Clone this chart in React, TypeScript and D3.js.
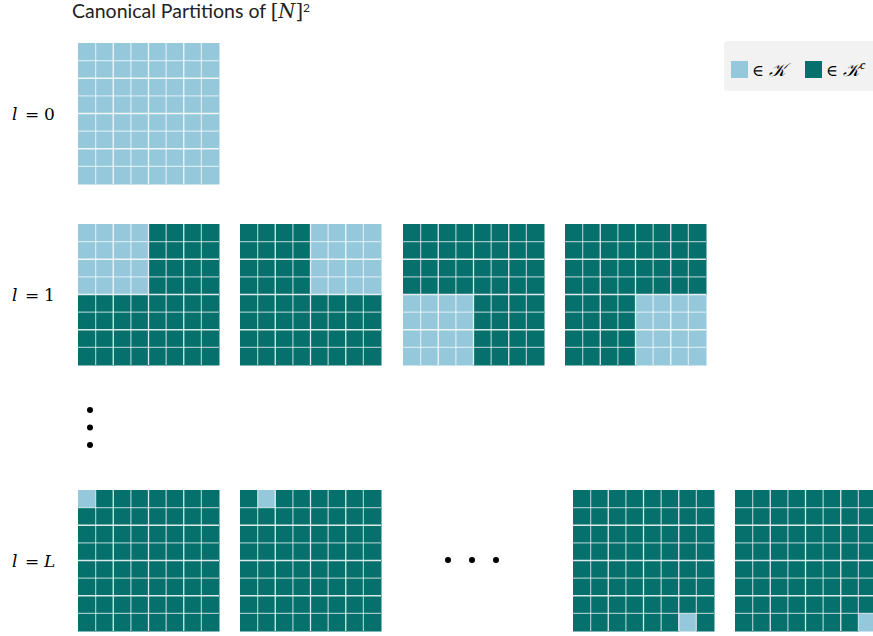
import React from "react";
import * as d3 from "d3";

// grid size and palette
const N = 8;
const lightBlue = "#96c8dc";
const teal = "#06706d";

const rowLabels = ["0", "1", "L"];
// light cells per panel: [row, col, size]
const level0Blocks: number[][] = [[0, 0, 8]];
const level1Blocks: number[][] = [[0, 0, 4], [0, 4, 4], [4, 0, 4], [4, 4, 4]];
const levelLBlocks: number[][] = [[0, 0, 1], [0, 1, 1], [7, 6, 1], [7, 7, 1]];

// layout
const panelSize = 141;
const rowTops = [43, 224, 490];
const colLefts = [[78], [78, 240, 403, 565], [78, 240, 573, 735]];
const rows = [level0Blocks, level1Blocks, levelLBlocks];

function Panel({x, y, block}: {x: number; y: number; block: number[]}) {
    const band = d3.scaleLinear().domain([0, N]).range([0, panelSize]);
    const [r0, c0, s] = block;
    const cells = d3.range(N * N).map(i => ({r: Math.floor(i / N), c: i % N}));
    const inside = (d: {r: number; c: number}) =>
        d.r >= r0 && d.r < r0 + s && d.c >= c0 && d.c < c0 + s;
    return (
        <g transform={`translate(${x},${y})`}>
            {cells.map((d, i) => (
                <rect key={i} x={band(d.c)} y={band(d.r)} width={band(1) + 0.5} height={band(1) + 0.5}
                      fill={inside(d) ? lightBlue : teal}/>
            ))}
            {d3.range(1, N).map(k => (
                <g key={k}>
                    <line x1={band(k)} x2={band(k)} y1={0} y2={panelSize} stroke="#fff"
                          strokeOpacity={k % 2 ? 0.6 : 0.85} strokeWidth={1.3}/>
                    <line y1={band(k)} y2={band(k)} x1={0} x2={panelSize} stroke="#fff"
                          strokeOpacity={k % 2 ? 0.6 : 0.85} strokeWidth={1.3}/>
                </g>
            ))}
        </g>
    );
}

export default function App() {
    return (
        <svg width={873} height={636} style={{position: "absolute", left: 0, top: 0}}>
            <rect width={873} height={636} fill="#fff"/>
            <text x={72} y={18} fontFamily="Lato" fontSize={19.5} fill="#222">
                Canonical Partitions of <tspan fontFamily="DejaVu Serif">[</tspan>
                <tspan fontFamily="DejaVu Serif" fontStyle="italic">N</tspan>
                <tspan fontFamily="DejaVu Serif">]</tspan>
                <tspan fontSize={12} dy={-6}>2</tspan>
            </text>

            {rows.map((blocks, ri) => {
                const cy = rowTops[ri] + panelSize / 2 + 6;
                return (
                    <g key={ri}>
                        <text y={cy} fontFamily="DejaVu Serif" fontSize={17}>
                            <tspan x={12} fontStyle="italic">l</tspan>
                            <tspan x={25}>=</tspan>
                            <tspan x={44} fontStyle={rowLabels[ri] === "L" ? "italic" : "normal"}>{rowLabels[ri]}</tspan>
                        </text>
                        {blocks.map((b, pi) => (
                            <Panel key={pi} x={colLefts[ri][pi]} y={rowTops[ri]} block={b}/>
                        ))}
                    </g>
                );
            })}

            {/* vertical and horizontal ellipsis */}
            {[410, 427.5, 445].map(cy => <circle key={cy} cx={90} cy={cy} r={3}/>)}
            {[448, 472, 496].map(cx => <circle key={cx} cx={cx} cy={560} r={3}/>)}

            {/* legend */}
            <rect x={724} y={41} width={152} height={50} rx={3} fill="#f2f2f2"/>
            <rect x={731} y={61} width={17} height={17} fill={lightBlue}/>
            <text x={752} y={76} fontFamily="DejaVu Serif" fontSize={16}>∈ <tspan fontFamily="Liberation Serif" fontSize={18} fontStyle="italic">𝒦</tspan></text>
            <rect x={805} y={61} width={17} height={17} fill={teal}/>
            <text x={826} y={76} fontFamily="DejaVu Serif" fontSize={16}>∈ <tspan fontFamily="Liberation Serif" fontSize={18} fontStyle="italic">𝒦</tspan>
                <tspan fontFamily="Liberation Serif" fontSize={12} dy={-7} fontStyle="italic">c</tspan></text>
        </svg>
    );
}
